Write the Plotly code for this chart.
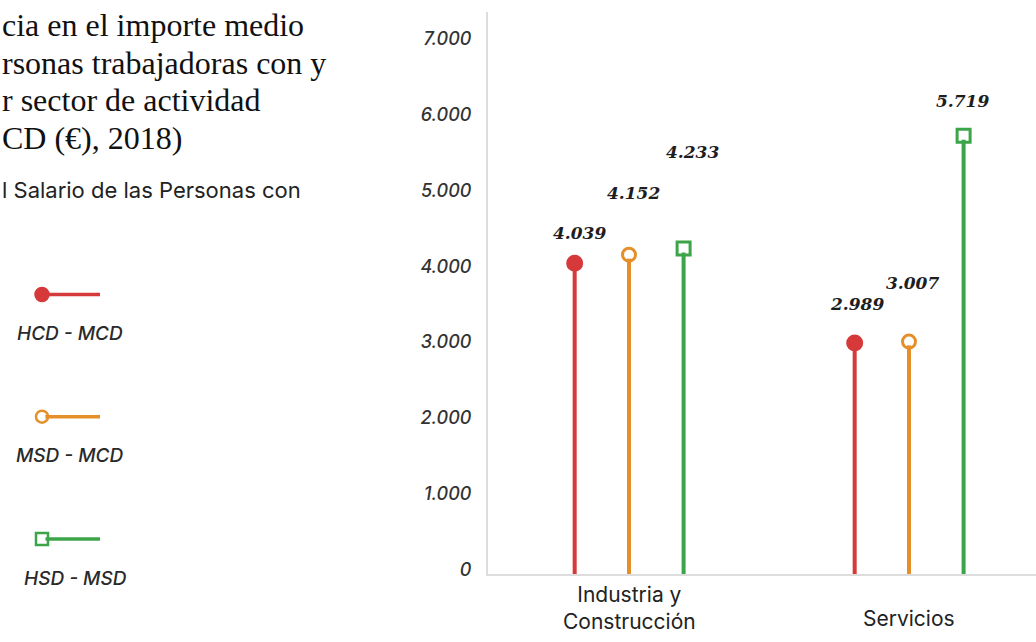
import plotly.graph_objects as go

# --- data -------------------------------------------------------------
categories = ["Industria y<br>Construcción", "Servicios"]
series_names = ["HCD - MCD", "MSD - MCD", "HSD - MSD"]
hcd_mcd = [4039, 2989]
msd_mcd = [4152, 3007]
hsd_msd = [4233, 5719]
y_ticks = [0, 1000, 2000, 3000, 4000, 5000, 6000, 7000]
y_tick_labels = ["0", "1.000", "2.000", "3.000", "4.000", "5.000", "6.000", "7.000"]

title_lines = [
    "cia en el importe medio",
    "rsonas trabajadoras con y",
    "r sector de actividad",
    "CD (€), 2018)",
]
subtitle = "l Salario de las Personas con"

# --- styling ----------------------------------------------------------
W, H = 1036, 642
VSCALE = 1 / 0.989          # vertical layout correction


def py(v):
    """Vertical pixel position/offset in layout units."""
    return v * VSCALE


RED, ORANGE, GREEN = "#d6393a", "#e58f2b", "#3ca449"
colors = [RED, ORANGE, GREEN]
symbols = ["circle", "circle-open", "square-open"]
offsets = [-0.194, 0.0, 0.195]
# pixel nudges for the value labels (x, y)
label_dx = [[5, 2], [4, 3], [9, -1]]
label_dy = [[30, 39], [61, 58], [95, 34]]

Y_MIN, Y_MAX = -53, 7348
plot_left, plot_top, plot_bottom = 488, py(12), py(573)
x_dom = [plot_left / W, 1.0]
y_dom = [(H - plot_bottom) / H, (H - plot_top) / H]

SANS = "Inter"


def fmt(v):
    return f"{v:,}".replace(",", ".")


fig = go.Figure()
series = [hcd_mcd, msd_mcd, hsd_msd]
annotations = []

for s, vals in enumerate(series):
    for c, v in enumerate(vals):
        x = c + offsets[s]
        # stem, from the axis baseline up to the value
        fig.add_trace(go.Scatter(
            x=[x, x], y=[Y_MIN, v], mode="lines",
            line=dict(color=colors[s], width=4),
            hoverinfo="skip", showlegend=False,
        ))
        # head
        fig.add_trace(go.Scatter(
            x=[x], y=[v], mode="markers",
            marker=dict(
                symbol=symbols[s],
                size=14 if s == 0 else 13,
                color=colors[s],
                line=dict(color=colors[s], width=3),
            ),
            showlegend=False,
        ))
        # white fill inside the open markers
        if s > 0:
            fig.add_trace(go.Scatter(
                x=[x], y=[v], mode="markers",
                marker=dict(symbol=symbols[s].replace("-open", ""), size=8, color="white"),
                hoverinfo="skip", showlegend=False,
            ))
        annotations.append(dict(
            x=x, y=v, xref="x", yref="y", text=fmt(v), showarrow=False,
            xshift=label_dx[s][c], yshift=py(label_dy[s][c]),
            font=dict(family="DejaVu Serif", size=17, color="#1e1e1e",
                      weight="bold", style="italic"),
        ))

# category labels under the axis; the two-line one sits on the figure's bottom edge
for c, name in enumerate(categories):
    two_lines = "<br>" in name
    annotations.append(dict(
        x=c, xref="x", yref="paper",
        y=0 if two_lines else (H - py(617)) / H,
        yanchor="bottom" if two_lines else "middle",
        text=name, showarrow=False,
        font=dict(family=SANS, size=21, color="#222222"),
    ))

# legend panel drawn on a hidden pixel-scaled axis
legend_y = [294, 416, 538]
legend_text_y = [333, 455, 578]
legend_text_x = [70, 70, 75]
for s, name in enumerate(series_names):
    ly = py(legend_y[s])
    fig.add_trace(go.Scatter(
        x=[42, 100], y=[ly, ly], mode="lines", xaxis="x2", yaxis="y2",
        line=dict(color=colors[s], width=3.5), hoverinfo="skip", showlegend=False,
    ))
    fig.add_trace(go.Scatter(
        x=[42], y=[ly], mode="markers", xaxis="x2", yaxis="y2",
        marker=dict(symbol=symbols[s], size=13 if s == 0 else 12, color=colors[s],
                    line=dict(color=colors[s], width=2.5)),
        hoverinfo="skip", showlegend=False,
    ))
    if s > 0:
        fig.add_trace(go.Scatter(
            x=[42], y=[ly], mode="markers", xaxis="x2", yaxis="y2",
            marker=dict(symbol=symbols[s].replace("-open", ""), size=7, color="white"),
            hoverinfo="skip", showlegend=False,
        ))
    annotations.append(dict(
        x=legend_text_x[s], y=py(legend_text_y[s]), xref="x2", yref="y2",
        text=name, showarrow=False,
        font=dict(family=SANS, size=19, color="#2a2a2a", style="italic", weight=500),
    ))

# heading lines and subheading
for i, line in enumerate(title_lines):
    annotations.append(dict(
        x=0, y=py(25 + 37.6 * i), xref="x2", yref="y2", xanchor="left", yanchor="middle",
        text=line, showarrow=False,
        font=dict(family="Liberation Serif", size=32, color="#111111"),
    ))
annotations.append(dict(
    x=0, y=py(190), xref="x2", yref="y2", xanchor="left", yanchor="middle",
    text=subtitle, showarrow=False,
    font=dict(family=SANS, size=22, color="#222222"),
))

fig.update_layout(
    width=W, height=H,
    margin=dict(l=0, r=0, t=0, b=0),
    paper_bgcolor="white", plot_bgcolor="white",
    showlegend=False,
    xaxis=dict(
        domain=x_dom, range=[(plot_left - 629) / 280, (W - 629) / 280],
        showgrid=False, zeroline=False, showticklabels=False, ticks="",
        showline=True, linecolor="#dddddd", linewidth=2,
    ),
    yaxis=dict(
        domain=y_dom, range=[Y_MIN, Y_MAX],
        tickvals=y_ticks, ticktext=y_tick_labels,
        showgrid=False, zeroline=False, ticks="",
        showline=True, linecolor="#dddddd", linewidth=2,
        tickfont=dict(family=SANS, size=18, color="#333333", style="italic", weight=500),
        ticklabelstandoff=11,
    ),
    xaxis2=dict(domain=[0, 0.4], range=[0, 0.4 * W], visible=False, anchor="y2"),
    yaxis2=dict(domain=[0, 1], range=[H, 0], visible=False, anchor="x2"),
    annotations=annotations,
)

fig.write_html("out.html")
